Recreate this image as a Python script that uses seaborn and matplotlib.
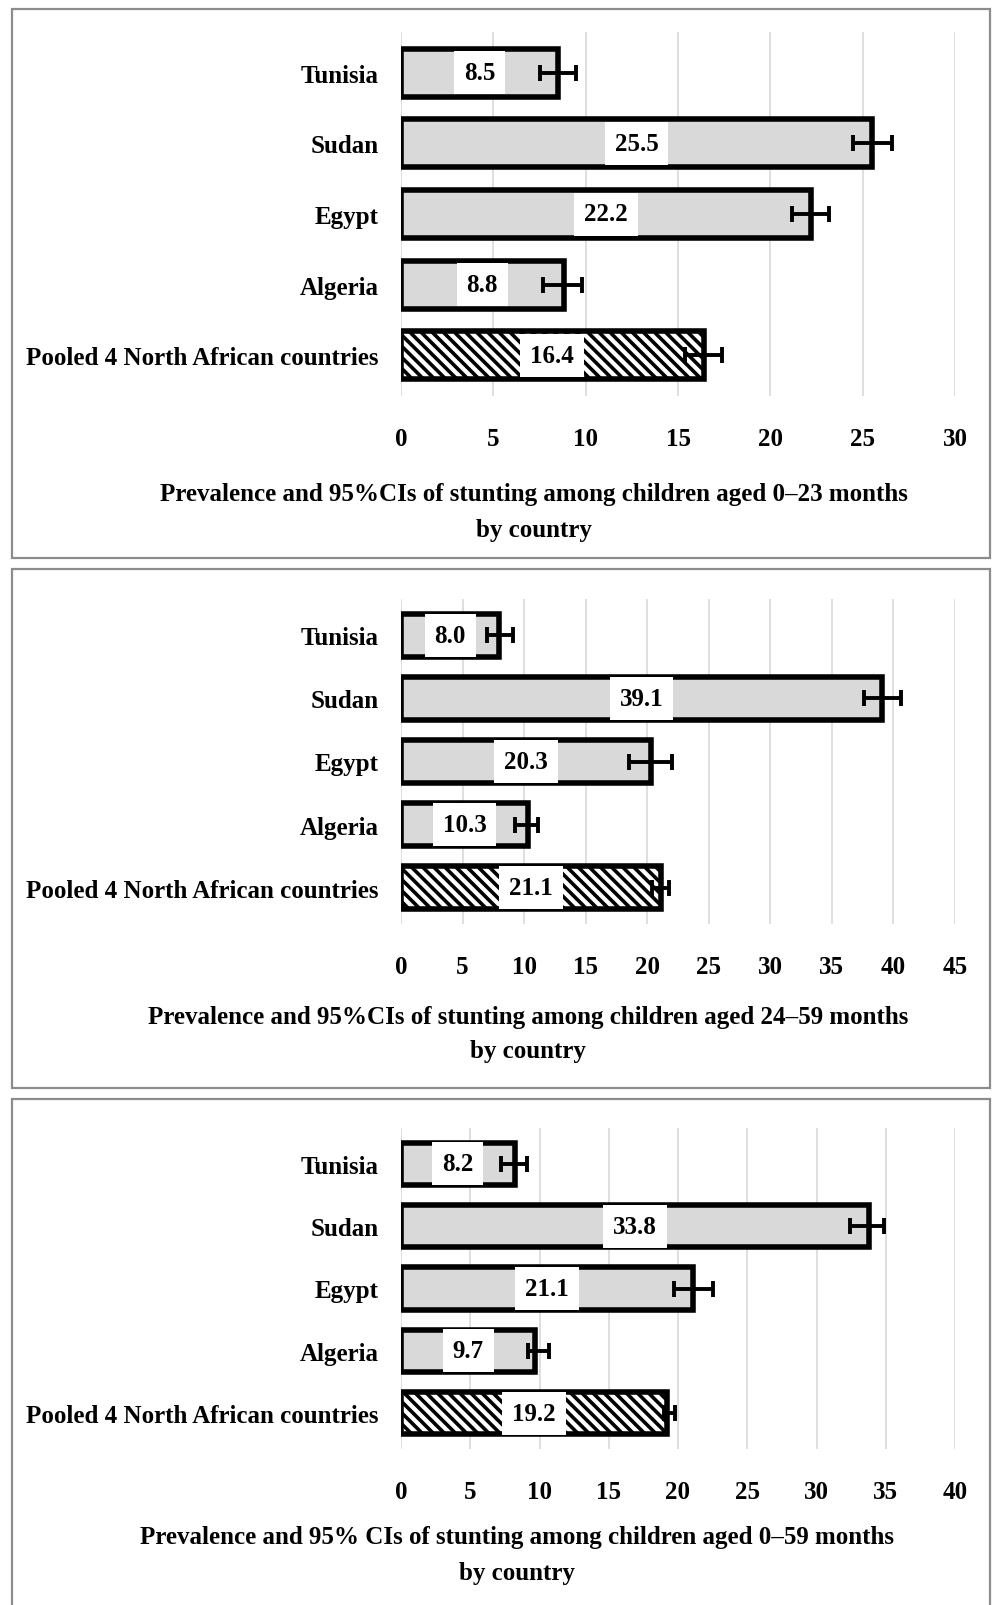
import matplotlib
matplotlib.use("Agg")
import matplotlib.pyplot as plt
from matplotlib.patches import Rectangle
import pandas as pd
import seaborn as sns

# data
countries = ["Tunisia", "Sudan", "Egypt", "Algeria", "Pooled 4 North African countries"]

prev_0_23 = [8.5, 25.5, 22.2, 8.8, 16.4]
low_0_23 = [7.5, 24.5, 21.2, 7.7, 15.4]
high_0_23 = [9.5, 26.6, 23.2, 9.8, 17.4]

prev_24_59 = [8.0, 39.1, 20.3, 10.3, 21.1]
low_24_59 = [7.0, 37.6, 18.5, 9.3, 20.4]
high_24_59 = [9.1, 40.6, 22.0, 11.1, 21.8]

prev_0_59 = [8.2, 33.8, 21.1, 9.7, 19.2]
low_0_59 = [7.2, 32.4, 19.7, 9.2, 19.0]
high_0_59 = [9.1, 34.9, 22.5, 10.7, 19.8]

xmax = [30, 45, 40]
titles = [
    ["Prevalence and 95%CIs of stunting among children aged 0\u201323 months", "by country"],
    ["Prevalence and 95%CIs of stunting among children aged 24\u201359 months", "by country"],
    ["Prevalence and 95% CIs of stunting among children aged 0\u201359 months", "by country"],
]

sns.set_theme(style="white")
plt.rcParams['font.family'] = ['Liberation Serif', 'DejaVu Serif']
plt.rcParams['font.weight'] = 'bold'
plt.rcParams['text.color'] = 'black'
plt.rcParams['xtick.color'] = 'black'
plt.rcParams['ytick.color'] = 'black'
plt.rcParams['hatch.linewidth'] = 2.6
plt.rcParams['hatch.color'] = 'black'

W, H = 992, 1606
fig = plt.figure(figsize=(W / 100, H / 100), dpi=100)


def fy(px):
    return 1 - px / H


# panel frames (pixel coords: top, bottom)
frames = [(10, 559), (570, 1089), (1100, 1612)]
for top, bottom in frames:
    fig.patches.append(Rectangle((12 / W, fy(bottom)), (990 - 12) / W, (bottom - top) / H,
                                 transform=fig.transFigure, fill=False,
                                 edgecolor='#8c8c8c', linewidth=1.6))

# axes placement (top px, bottom px)
axes_px = [(33, 397), (600, 925), (1129, 1450)]
xlab_px = [(534, 495, 531), (528, 1018, 1052), (517, 1538, 1574)]

panels = [
    (prev_0_23, low_0_23, high_0_23),
    (prev_24_59, low_24_59, high_24_59),
    (prev_0_59, low_0_59, high_0_59),
]

for i, (prev, low, high) in enumerate(panels):
    top, bottom = axes_px[i]
    ax = fig.add_axes([401 / W, fy(bottom), (955 - 401) / W, (bottom - top) / H])
    df = pd.DataFrame({'country': countries, 'prev': prev})
    sns.barplot(data=df, x='prev', y='country', orient='h', color='#d9d9d9',
                saturation=1, width=0.68, edgecolor='black', linewidth=4.0,
                errorbar=None, ax=ax, zorder=2)
    # pooled bar hatched
    pooled = ax.patches[-1]
    pooled.set_facecolor('white')
    pooled.set_hatch('\\\\\\')

    ypos = list(range(len(countries)))
    xerr = [[p - l for p, l in zip(prev, low)], [h - p for p, h in zip(prev, high)]]
    ax.errorbar(prev, ypos, xerr=xerr, fmt='none', ecolor='black',
                elinewidth=2.8, capsize=5.5, capthick=2.8, zorder=4)

    for y, v in zip(ypos, prev):
        ax.text(v / 2, y, f"{v:.1f}", ha='center', va='center', fontsize=18,
                fontweight='bold', color='black', zorder=5,
                bbox=dict(boxstyle='square,pad=0.4', facecolor='white', edgecolor='none'))

    ax.set_xlim(0, xmax[i])
    ax.set_xticks(range(0, xmax[i] + 1, 5))
    ax.xaxis.grid(True, color='#d9d9d9', linewidth=1.2, zorder=0)
    ax.set_axisbelow(True)
    for s in ax.spines.values():
        s.set_visible(False)
    ax.set_xlabel('')
    ax.set_ylabel('')
    ax.tick_params(axis='x', length=0, pad=22, labelsize=18)
    ax.tick_params(axis='y', length=0, pad=16, labelsize=18)
    for lab in ax.get_xticklabels() + ax.get_yticklabels():
        lab.set_fontweight('bold')

    cx, y1, y2 = xlab_px[i]
    fig.text(cx / W, fy(y1), titles[i][0], ha='center', va='center', fontsize=18, fontweight='bold')
    fig.text(cx / W, fy(y2), titles[i][1], ha='center', va='center', fontsize=18, fontweight='bold')

fig.savefig('out.png', dpi=100, facecolor='white')
